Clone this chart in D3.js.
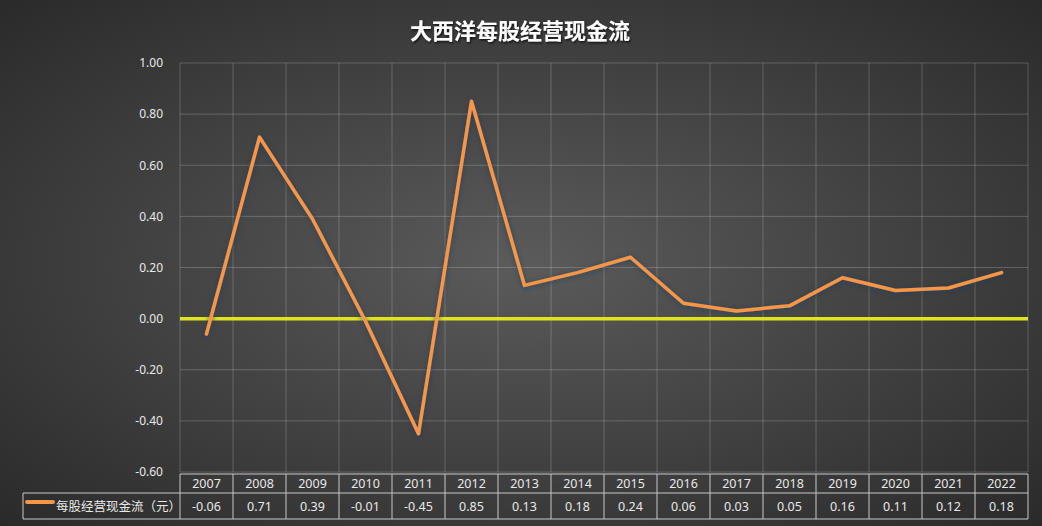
<!DOCTYPE html>
<html>
<head>
<meta charset="utf-8">
<title>大西洋每股经营现金流</title>
<script src="https://cdn.jsdelivr.net/npm/d3@7"></script>
<style>
  body { margin: 0; background: #333; }
  text { font-family: "Noto Sans CJK SC", "Noto Sans", sans-serif; }
</style>
</head>
<body>
<div id="chart"></div>
<script>
// data
var years = ["2007","2008","2009","2010","2011","2012","2013","2014","2015","2016","2017","2018","2019","2020","2021","2022"];
var cashFlow = [-0.06, 0.71, 0.39, -0.01, -0.45, 0.85, 0.13, 0.18, 0.24, 0.06, 0.03, 0.05, 0.16, 0.11, 0.12, 0.18];
var yTicks = [-0.6, -0.4, -0.2, 0, 0.2, 0.4, 0.6, 0.8, 1.0];
var seriesName = "每股经营现金流（元）";
var chartTitle = "大西洋每股经营现金流";

var W = 1042, H = 526;
var margin = {top: 63, right: 14, bottom: 54, left: 180};
var innerW = W - margin.left - margin.right,
    innerH = H - margin.top - margin.bottom;

// plain hyphen instead of unicode minus
var fmt = function(d) { return d3.format(".2f")(d).replace("\u2212", "-"); };

var svg = d3.select("#chart").append("svg")
  .attr("width", W).attr("height", H);

var defs = svg.append("defs");
var grad = defs.append("radialGradient").attr("id", "bg")
  .attr("cx", "50%").attr("cy", "50%").attr("r", "75%");
grad.append("stop").attr("offset", "0%").attr("stop-color", "#5b5b5b");
grad.append("stop").attr("offset", "100%").attr("stop-color", "#272727");

var shadow = defs.append("filter").attr("id", "shadow")
  .attr("x", "-10%").attr("y", "-10%").attr("width", "120%").attr("height", "120%");
shadow.append("feDropShadow").attr("dx", 0).attr("dy", 1).attr("stdDeviation", 2.5)
  .attr("flood-color", "#1c3c5c").attr("flood-opacity", 0.8);

var tshadow = defs.append("filter").attr("id", "tshadow");
tshadow.append("feDropShadow").attr("dx", 1).attr("dy", 1.5).attr("stdDeviation", 1)
  .attr("flood-color", "#000").attr("flood-opacity", 0.7);

svg.append("rect").attr("width", W).attr("height", H).attr("fill", "url(#bg)");

// title
svg.append("text")
  .attr("x", 520).attr("y", 39)
  .attr("text-anchor", "middle")
  .attr("fill", "#fff")
  .attr("font-size", "22px")
  .attr("font-weight", "bold")
  .attr("filter", "url(#tshadow)")
  .text(chartTitle);

var g = svg.append("g").attr("transform", "translate(" + margin.left + "," + margin.top + ")");

var x = d3.scaleBand().domain(years).range([0, innerW]);
var y = d3.scaleLinear().domain([-0.6, 1.0]).range([innerH, 0]);

// horizontal grid
g.selectAll(".hgrid").data(yTicks).enter().append("line")
  .attr("x1", 0).attr("x2", innerW)
  .attr("y1", function(d) { return y(d); })
  .attr("y2", function(d) { return y(d); })
  .attr("stroke", "rgba(255,255,255,0.2)").attr("stroke-width", 1);

// vertical grid at category boundaries
var bounds = years.map(function(d) { return x(d); }).concat([innerW]);
g.selectAll(".vgrid").data(bounds).enter().append("line")
  .attr("x1", function(d) { return d; }).attr("x2", function(d) { return d; })
  .attr("y1", 0).attr("y2", innerH)
  .attr("stroke", "rgba(255,255,255,0.2)").attr("stroke-width", 1);

// y axis labels
var yAxis = d3.axisLeft(y).tickValues(yTicks).tickFormat(fmt).tickSize(0).tickPadding(17);
var ya = g.append("g").call(yAxis);
ya.select(".domain").remove();
ya.selectAll("text")
  .attr("fill", "#e8e8e8")
  .style("font-size", "12px")
  .style("font-family", "'Noto Sans', sans-serif");

// zero line
g.append("line")
  .attr("x1", 0).attr("x2", innerW)
  .attr("y1", y(0)).attr("y2", y(0))
  .attr("stroke", "#dfe41c").attr("stroke-width", 3.5);

// series line
var line = d3.line()
  .x(function(d, i) { return x(years[i]) + x.bandwidth() / 2; })
  .y(function(d) { return y(d); });

g.append("path")
  .datum(cashFlow)
  .attr("fill", "none")
  .attr("stroke", "#f79646")
  .attr("stroke-width", 3.5)
  .attr("stroke-linejoin", "round")
  .attr("stroke-linecap", "round")
  .attr("filter", "url(#shadow)")
  .attr("d", line);

// data table
var tableTop = innerH + 2, row1 = 19, row2 = 26;
var tbl = g.append("g").attr("transform", "translate(0," + tableTop + ")");
var border = "#c8c8c8";

tbl.append("line").attr("x1", 0).attr("x2", innerW).attr("y1", 0).attr("y2", 0).attr("stroke", border);
tbl.append("line").attr("x1", 23 - margin.left).attr("x2", innerW).attr("y1", row1).attr("y2", row1).attr("stroke", border);
tbl.append("line").attr("x1", 23 - margin.left).attr("x2", innerW).attr("y1", row1 + row2).attr("y2", row1 + row2).attr("stroke", border);
tbl.append("line").attr("x1", 23 - margin.left).attr("x2", 23 - margin.left).attr("y1", row1).attr("y2", row1 + row2).attr("stroke", border);
tbl.selectAll(".col").data(bounds).enter().append("line")
  .attr("x1", function(d) { return d; }).attr("x2", function(d) { return d; })
  .attr("y1", 0).attr("y2", row1 + row2).attr("stroke", border);

tbl.selectAll(".yr").data(years).enter().append("text")
  .attr("x", function(d) { return x(d) + x.bandwidth() / 2; })
  .attr("y", row1 / 2 + 4.5)
  .attr("text-anchor", "middle")
  .attr("fill", "#e8e8e8")
  .style("font-size", "12.5px")
  .style("font-family", "'Noto Sans', sans-serif")
  .text(function(d) { return d; });

tbl.selectAll(".val").data(cashFlow).enter().append("text")
  .attr("x", function(d, i) { return x(years[i]) + x.bandwidth() / 2; })
  .attr("y", row1 + row2 / 2 + 4.5)
  .attr("text-anchor", "middle")
  .attr("fill", "#e8e8e8")
  .style("font-size", "12.5px")
  .style("font-family", "'Noto Sans', sans-serif")
  .text(function(d) { return fmt(d); });

// legend key inside the table
tbl.append("line")
  .attr("x1", 27 - margin.left).attr("x2", 53 - margin.left)
  .attr("y1", row1 + 9).attr("y2", row1 + 9)
  .attr("stroke", "#f79646").attr("stroke-width", 4).attr("stroke-linecap", "round");
tbl.append("text")
  .attr("x", 56 - margin.left).attr("y", row1 + row2 / 2 + 4.5)
  .attr("fill", "#e8e8e8")
  .style("font-size", "12.5px")
  .text(seriesName);
</script>
</body>
</html>
